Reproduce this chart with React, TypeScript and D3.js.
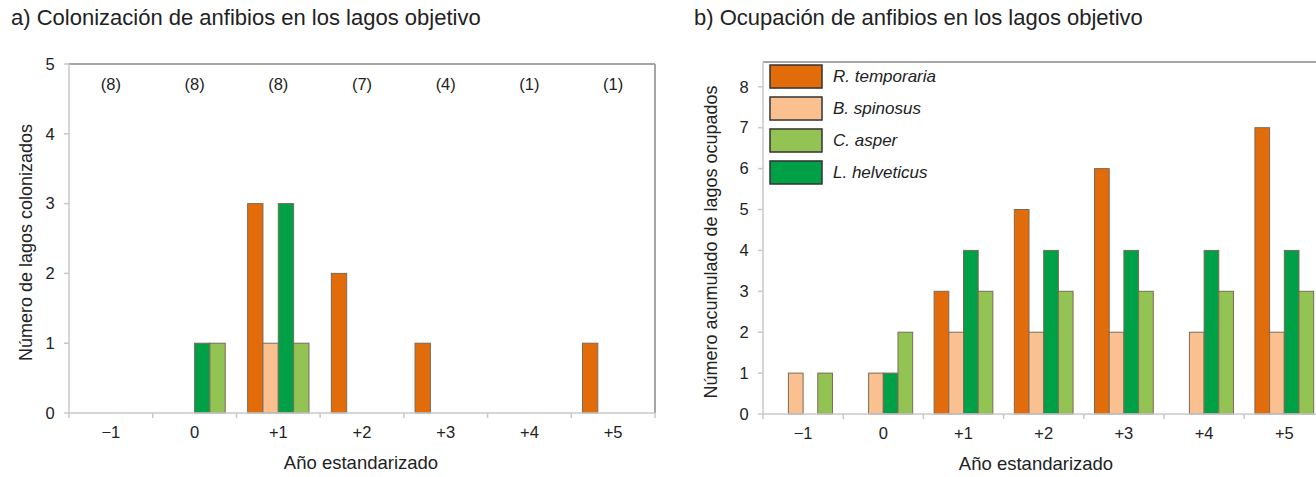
import React from "react";
import * as d3 from "d3";

const categories = ["\u22121", "0", "+1", "+2", "+3", "+4", "+5"];
const barSeries = ["R. temporaria", "B. spinosus", "L. helveticus", "C. asper"];
const seriesColors = ["#E36C0A", "#FAC090", "#00A047", "#92C353"];

// Panel a: colonización
const colTemporaria = [0, 0, 3, 2, 1, 0, 1];
const colSpinosus = [0, 0, 1, 0, 0, 0, 0];
const colHelveticus = [0, 1, 3, 0, 0, 0, 0];
const colAsper = [0, 1, 1, 0, 0, 0, 0];
const lakeCounts = ["(8)", "(8)", "(8)", "(7)", "(4)", "(1)", "(1)"];
const yTicksA = [0, 1, 2, 3, 4, 5];

// Panel b: ocupación acumulada
const occTemporaria = [0, 0, 3, 5, 6, 0, 7];
const occSpinosus = [1, 1, 2, 2, 2, 2, 2];
const occHelveticus = [0, 1, 4, 4, 4, 4, 4];
const occAsper = [1, 2, 3, 3, 3, 3, 3];
const yTicksB = [0, 1, 2, 3, 4, 5, 6, 7, 8];

const legendNames = ["R. temporaria", "B. spinosus", "C. asper", "L. helveticus"];
const legendColors = ["#E36C0A", "#FAC090", "#92C353", "#00A047"];

const FONT = "'Liberation Sans', Arial, sans-serif";
const TEXT = "#222";

function HText(props: {
  x: number;
  y: number;
  size: number;
  anchor?: string;
  italic?: boolean;
  children: React.ReactNode;
}) {
  return (
    <text
      x={props.x}
      y={props.y}
      dy="0.35em"
      textAnchor={props.anchor ?? "middle"}
      fontSize={props.size}
      fontStyle={props.italic ? "italic" : "normal"}
      fill={TEXT}
      fontFamily={FONT}
    >
      {props.children}
    </text>
  );
}

type PanelProps = {
  x0: number;
  x1: number;
  yTop: number;
  yBottom: number;
  yMax: number;
  yTicks: number[];
  values: number[][];
  yLabel: string;
  title: string;
  titleX: number;
  yLabelX: number;
  xTitleX: number;
};

function Panel(p: PanelProps) {
  const x = d3.scaleBand<string>().domain(categories).range([p.x0, p.x1]).paddingInner(0).paddingOuter(0);
  const xs = d3
    .scaleBand<string>()
    .domain(barSeries)
    .range([0, x.bandwidth()])
    .paddingInner(0)
    .paddingOuter(0.73);
  const y = d3.scaleLinear().domain([0, p.yMax]).range([p.yBottom, p.yTop]);
  const bounds = categories.map((c) => x(c) as number).concat([p.x1]);
  return (
    <g>
      <HText x={p.titleX} y={17} size={22} anchor="start">
        {p.title}
      </HText>
      {/* frame */}
      <line x1={p.x0} x2={p.x1} y1={p.yTop} y2={p.yTop} stroke="#a6a6a6" strokeWidth={2} />
      <line x1={p.x1} x2={p.x1} y1={p.yTop} y2={p.yBottom} stroke="#a6a6a6" strokeWidth={2} />
      {/* bars */}
      {p.values.map((vals, si) =>
        vals.map((v, ci) =>
          v > 0 ? (
            <rect
              key={si + "-" + ci}
              x={(x(categories[ci]) as number) + (xs(barSeries[si]) as number)}
              y={y(v)}
              width={xs.bandwidth()}
              height={y(0) - y(v)}
              fill={seriesColors[si]}
              stroke="#7a6a5a"
              strokeWidth={1}
            />
          ) : null
        )
      )}
      {/* axes */}
      <line x1={p.x0} x2={p.x0} y1={p.yTop} y2={p.yBottom} stroke="#c8c8c8" strokeWidth={1.5} />
      <line x1={p.x0} x2={p.x1} y1={p.yBottom} y2={p.yBottom} stroke="#c8c8c8" strokeWidth={1.5} />
      {p.yTicks.map((t) => (
        <g key={"yt" + t}>
          <line x1={p.x0 - 5} x2={p.x0} y1={y(t)} y2={y(t)} stroke="#c8c8c8" strokeWidth={1.5} />
          <HText x={p.x0 - 19} y={y(t)} size={16.5}>
            {t}
          </HText>
        </g>
      ))}
      {bounds.map((b, i) => (
        <line key={"xt" + i} x1={b} x2={b} y1={p.yBottom} y2={p.yBottom + 5} stroke="#c8c8c8" strokeWidth={1.5} />
      ))}
      {categories.map((c) => (
        <HText key={"xl" + c} x={(x(c) as number) + x.bandwidth() / 2} y={p.yBottom + 19} size={16.5}>
          {c}
        </HText>
      ))}
      <HText x={p.xTitleX} y={p.yBottom + 50} size={18.5}>
        Año estandarizado
      </HText>
      <text
        transform={`translate(${p.yLabelX},${(p.yTop + p.yBottom) / 2 + 4}) rotate(-90)`}
        textAnchor="middle"
        dy="0.35em"
        fontSize={18}
        fill={TEXT}
        fontFamily={FONT}
      >
        {p.yLabel}
      </text>
    </g>
  );
}

export default function App() {
  const xA = d3.scaleBand<string>().domain(categories).range([69, 655]);
  const legendY = d3.scaleBand<string>().domain(legendNames).range([65, 184]).paddingInner(0.28);
  return (
    <svg
      width={1316}
      height={477}
      style={{ position: "fixed", left: 0, top: 0, background: "#fff" }}
    >
      <rect width={1316} height={477} fill="#fff" />
      <Panel
        x0={69}
        x1={655}
        yTop={64}
        yBottom={413}
        yMax={5}
        yTicks={yTicksA}
        values={[colTemporaria, colSpinosus, colHelveticus, colAsper]}
        yLabel="Número de lagos colonizados"
        title="a) Colonización de anfibios en los lagos objetivo"
        titleX={11}
        yLabelX={26}
        xTitleX={361}
      />
      {categories.map((c, i) => (
        <HText key={"cnt" + c} x={(xA(c) as number) + xA.bandwidth() / 2} y={84} size={16.5}>
          {lakeCounts[i]}
        </HText>
      ))}
      <Panel
        x0={763}
        x1={763 + 7 * 80.2}
        yTop={62}
        yBottom={414}
        yMax={(414 - 62) / 40.9}
        yTicks={yTicksB}
        values={[occTemporaria, occSpinosus, occHelveticus, occAsper]}
        yLabel="Número acumulado de lagos ocupados"
        title="b) Ocupación de anfibios en los lagos objetivo"
        titleX={694}
        yLabelX={711}
        xTitleX={1036}
      />
      {legendNames.map((n, i) => (
        <g key={"lg" + n}>
          <rect
            x={770}
            y={legendY(n) as number}
            width={52}
            height={legendY.bandwidth()}
            fill={legendColors[i]}
            stroke="#333"
            strokeWidth={1.5}
          />
          <HText x={833} y={(legendY(n) as number) + legendY.bandwidth() / 2} size={17} anchor="start" italic>
            {n}
          </HText>
        </g>
      ))}
    </svg>
  );
}
